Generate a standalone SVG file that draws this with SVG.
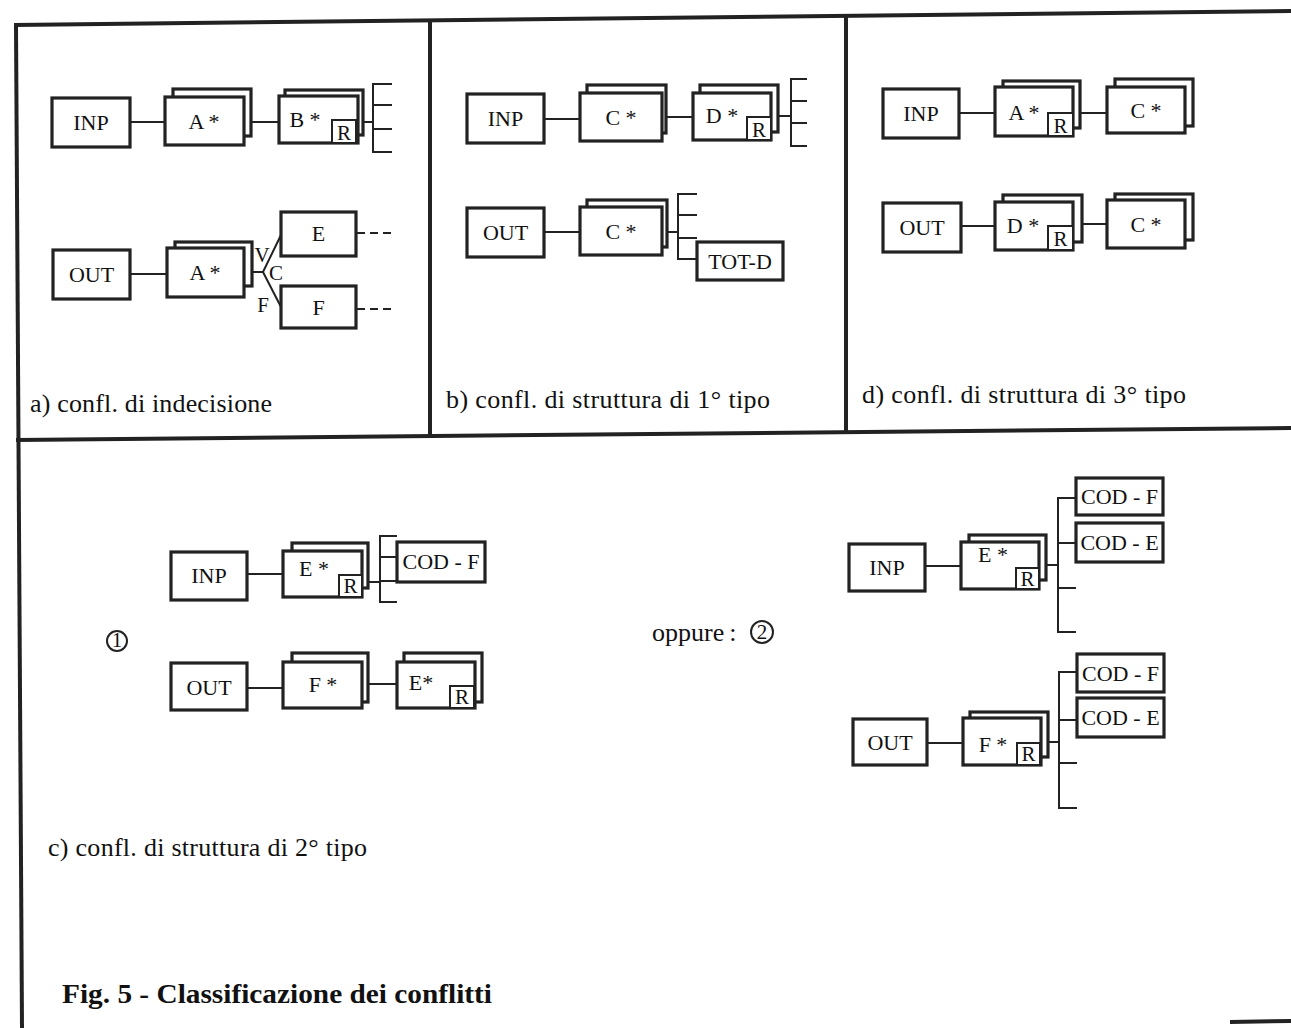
<svg xmlns="http://www.w3.org/2000/svg" width="1291" height="1028" viewBox="0 0 1291 1028">
<style>
.bx{fill:#fff;stroke:#222;stroke-width:3.2}
.rb{fill:#fff;stroke:#222;stroke-width:2}
.ln{stroke:#222;stroke-width:2;fill:none}
.fr{stroke:#222;stroke-width:4;fill:none}
.t{font-family:"Liberation Serif","Times New Roman",serif;font-size:22px;fill:#111;text-anchor:middle}
.r{font-family:"Liberation Serif","Times New Roman",serif;font-size:21px;fill:#111;text-anchor:middle}
.cap{font-family:"Liberation Serif","Times New Roman",serif;font-size:26px;fill:#111}
.ttl{font-family:"Liberation Serif","Times New Roman",serif;font-size:28px;font-weight:bold;fill:#111}
</style>
<rect x="0" y="0" width="1291" height="1028" fill="#fff"/>
<g id="frame">
<line class="fr" x1="14" y1="25" x2="1291" y2="11"/>
<line class="fr" x1="16" y1="25" x2="22" y2="1028"/>
<line class="fr" x1="16" y1="440" x2="1291" y2="428"/>
<line class="fr" x1="430" y1="22" x2="430" y2="438"/>
<line class="fr" x1="846" y1="17" x2="846" y2="433"/>
<line class="fr" x1="1230" y1="1022" x2="1291" y2="1021"/>
</g>
<g id="connectors">
<line class="ln" x1="130" y1="122" x2="165" y2="122"/>
<line class="ln" x1="251" y1="122" x2="279" y2="122"/>
<line class="ln" x1="363" y1="122" x2="373" y2="122"/>
<path class="ln" d="M392,84H373V152H392M373,105H392M373,129H392"/>
<line class="ln" x1="130" y1="274" x2="167" y2="274"/>
<path class="ln" d="M252,272H263L281,235M263,272L281,307"/>
<line class="ln" x1="357" y1="233" x2="395" y2="233" stroke-dasharray="8,5"/>
<line class="ln" x1="357" y1="309" x2="395" y2="309" stroke-dasharray="8,5"/>
<line class="ln" x1="544" y1="119" x2="580" y2="119"/>
<line class="ln" x1="666" y1="117" x2="693" y2="117"/>
<line class="ln" x1="778" y1="116" x2="791" y2="116"/>
<path class="ln" d="M807,79H791V146H807M791,101H807M791,123H807"/>
<line class="ln" x1="544" y1="232" x2="580" y2="232"/>
<line class="ln" x1="667" y1="232" x2="678" y2="232"/>
<path class="ln" d="M697,194H678V259H697M678,215H697M678,238H697"/>
<line class="ln" x1="959" y1="113" x2="995" y2="113"/>
<line class="ln" x1="1080" y1="113" x2="1107" y2="113"/>
<line class="ln" x1="961" y1="226" x2="995" y2="226"/>
<line class="ln" x1="1082" y1="224" x2="1107" y2="224"/>
<line class="ln" x1="247" y1="574" x2="283" y2="574"/>
<line class="ln" x1="368" y1="582" x2="380" y2="582"/>
<path class="ln" d="M397,536H380V602H397M380,557H397M380,581H397"/>
<line class="ln" x1="247" y1="688" x2="283" y2="688"/>
<line class="ln" x1="368" y1="684" x2="397" y2="684"/>
<line class="ln" x1="925" y1="566" x2="961" y2="566"/>
<line class="ln" x1="1046" y1="565" x2="1058" y2="565"/>
<path class="ln" d="M1076,498H1058V632H1076M1058,543H1076M1058,588H1076"/>
<line class="ln" x1="927" y1="743" x2="963" y2="743"/>
<line class="ln" x1="1048" y1="742" x2="1059" y2="742"/>
<path class="ln" d="M1077,672H1059V808H1077M1059,720H1077M1059,763H1077"/>
</g>
<g id="a-inp"><rect class="bx" x="52" y="98" width="78" height="49"/><text class="t" x="91" y="130">INP</text></g>
<g id="a-A1"><rect class="bx" x="173" y="89" width="78" height="47"/><rect class="bx" x="165" y="97" width="79" height="48"/><text class="t" x="204" y="129">A *</text></g>
<g id="a-B"><rect class="bx" x="285" y="90" width="78" height="45"/><rect class="bx" x="279" y="96" width="79" height="47"/><rect class="rb" x="332" y="120" width="24" height="23"/><text class="t" x="305" y="127">B *</text><text class="r" x="344" y="140">R</text></g>
<g id="a-out"><rect class="bx" x="53" y="250" width="77" height="49"/><text class="t" x="91.5" y="282">OUT</text></g>
<g id="a-A2"><rect class="bx" x="175" y="242" width="77" height="44"/><rect class="bx" x="167" y="248" width="77" height="49"/><text class="t" x="205" y="280">A *</text></g>
<g id="a-labels"><text class="r" x="262" y="262" font-size="19">V</text><text class="r" x="276" y="280" font-size="19">C</text><text class="r" x="263" y="312" font-size="19">F</text></g>
<g id="a-E"><rect class="bx" x="281" y="212" width="75" height="44"/><text class="t" x="318.5" y="241">E</text></g>
<g id="a-F"><rect class="bx" x="281" y="286" width="75" height="42"/><text class="t" x="318.5" y="315">F</text></g>
<text class="cap" x="30" y="412" textLength="242" lengthAdjust="spacing">a) confl. di indecisione</text>
<g id="b-inp"><rect class="bx" x="467" y="94" width="77" height="49"/><text class="t" x="505.5" y="126">INP</text></g>
<g id="b-C1"><rect class="bx" x="587" y="85" width="79" height="48"/><rect class="bx" x="580" y="93" width="82" height="48"/><text class="t" x="621" y="125">C *</text></g>
<g id="b-D"><rect class="bx" x="700" y="85" width="78" height="47"/><rect class="bx" x="693" y="93" width="78" height="47"/><rect class="rb" x="747" y="117" width="24" height="23"/><text class="t" x="722" y="123">D *</text><text class="r" x="759" y="137">R</text></g>
<g id="b-out"><rect class="bx" x="467" y="208" width="77" height="49"/><text class="t" x="505.5" y="240">OUT</text></g>
<g id="b-C2"><rect class="bx" x="587" y="200" width="80" height="47"/><rect class="bx" x="580" y="207" width="82" height="48"/><text class="t" x="621" y="239">C *</text></g>
<g id="b-tot"><rect class="bx" x="697" y="242" width="86" height="38"/><text class="t" x="740" y="269">TOT-D</text></g>
<text class="cap" x="446" y="408" textLength="324" lengthAdjust="spacing">b) confl. di struttura di 1° tipo</text>
<g id="d-inp"><rect class="bx" x="883" y="89" width="76" height="49"/><text class="t" x="921" y="121">INP</text></g>
<g id="d-A"><rect class="bx" x="1003" y="81" width="77" height="47"/><rect class="bx" x="995" y="87" width="78" height="49"/><rect class="rb" x="1048" y="113" width="25" height="23"/><text class="t" x="1024" y="120">A *</text><text class="r" x="1060.5" y="133">R</text></g>
<g id="d-C1"><rect class="bx" x="1115" y="79" width="78" height="47"/><rect class="bx" x="1107" y="87" width="78" height="46"/><text class="t" x="1146" y="118">C *</text></g>
<g id="d-out"><rect class="bx" x="883" y="203" width="78" height="49"/><text class="t" x="922" y="235">OUT</text></g>
<g id="d-D"><rect class="bx" x="1003" y="195" width="79" height="47"/><rect class="bx" x="995" y="202" width="78" height="48"/><rect class="rb" x="1048" y="226" width="25" height="24"/><text class="t" x="1023" y="233">D *</text><text class="r" x="1060.5" y="246">R</text></g>
<g id="d-C2"><rect class="bx" x="1115" y="194" width="78" height="46"/><rect class="bx" x="1107" y="200" width="78" height="48"/><text class="t" x="1146" y="232">C *</text></g>
<text class="cap" x="862" y="403" textLength="324" lengthAdjust="spacing">d) confl. di struttura di 3° tipo</text>
<g id="c-inp1"><rect class="bx" x="171" y="552" width="76" height="48"/><text class="t" x="209" y="583">INP</text></g>
<g id="c-E1"><rect class="bx" x="292" y="543" width="76" height="45"/><rect class="bx" x="283" y="551" width="79" height="46"/><rect class="rb" x="339" y="575" width="23" height="22"/><text class="t" x="314" y="576">E *</text><text class="r" x="350.5" y="593">R</text></g>
<g id="c-codf1"><rect class="bx" x="397" y="542" width="88" height="40"/><text class="t" x="441" y="569">COD - F</text></g>
<g id="c-out1"><rect class="bx" x="171" y="663" width="76" height="47"/><text class="t" x="209" y="695">OUT</text></g>
<g id="c-F1"><rect class="bx" x="292" y="653" width="76" height="49"/><rect class="bx" x="283" y="662" width="79" height="46"/><text class="t" x="323" y="692">F *</text></g>
<g id="c-E2"><rect class="bx" x="404" y="653" width="78" height="49"/><rect class="bx" x="397" y="662" width="78" height="46"/><rect class="rb" x="450" y="686" width="24" height="22"/><text class="t" x="421" y="690">E*</text><text class="r" x="462" y="704">R</text></g>
<g id="c-one"><circle cx="117" cy="641" r="10" fill="none" stroke="#222" stroke-width="2"/><text class="r" x="117" y="647" font-size="17">1</text></g>
<g id="c-oppure"><text class="cap" x="652" y="641">oppure<tspan dx="5">:</tspan></text><circle cx="762" cy="632" r="11" fill="none" stroke="#222" stroke-width="2"/><text class="r" x="762" y="639" font-size="19">2</text></g>
<g id="c-inp2"><rect class="bx" x="849" y="544" width="76" height="47"/><text class="t" x="887" y="575">INP</text></g>
<g id="c-E3"><rect class="bx" x="969" y="535" width="77" height="45"/><rect class="bx" x="961" y="542" width="78" height="47"/><rect class="rb" x="1016" y="568" width="23" height="21"/><text class="t" x="993" y="562">E *</text><text class="r" x="1027.5" y="586">R</text></g>
<g id="c-codf2"><rect class="bx" x="1076" y="478" width="87" height="37"/><text class="t" x="1119.5" y="504">COD - F</text></g>
<g id="c-code2"><rect class="bx" x="1076" y="523" width="87" height="39"/><text class="t" x="1119.5" y="550">COD - E</text></g>
<g id="c-out2"><rect class="bx" x="853" y="719" width="74" height="46"/><text class="t" x="890" y="750">OUT</text></g>
<g id="c-F2"><rect class="bx" x="970" y="712" width="78" height="45"/><rect class="bx" x="963" y="718" width="78" height="47"/><rect class="rb" x="1017" y="743" width="23" height="22"/><text class="t" x="993" y="752">F *</text><text class="r" x="1028.5" y="761">R</text></g>
<g id="c-codf3"><rect class="bx" x="1077" y="654" width="87" height="38"/><text class="t" x="1120.5" y="681">COD - F</text></g>
<g id="c-code3"><rect class="bx" x="1077" y="698" width="87" height="39"/><text class="t" x="1120.5" y="725">COD - E</text></g>
<text class="cap" x="48" y="856" textLength="319" lengthAdjust="spacing">c) confl. di struttura di 2° tipo</text>
<text class="ttl" x="62" y="1003" textLength="430" lengthAdjust="spacingAndGlyphs">Fig. 5 - Classificazione dei conflitti</text>
</svg>
